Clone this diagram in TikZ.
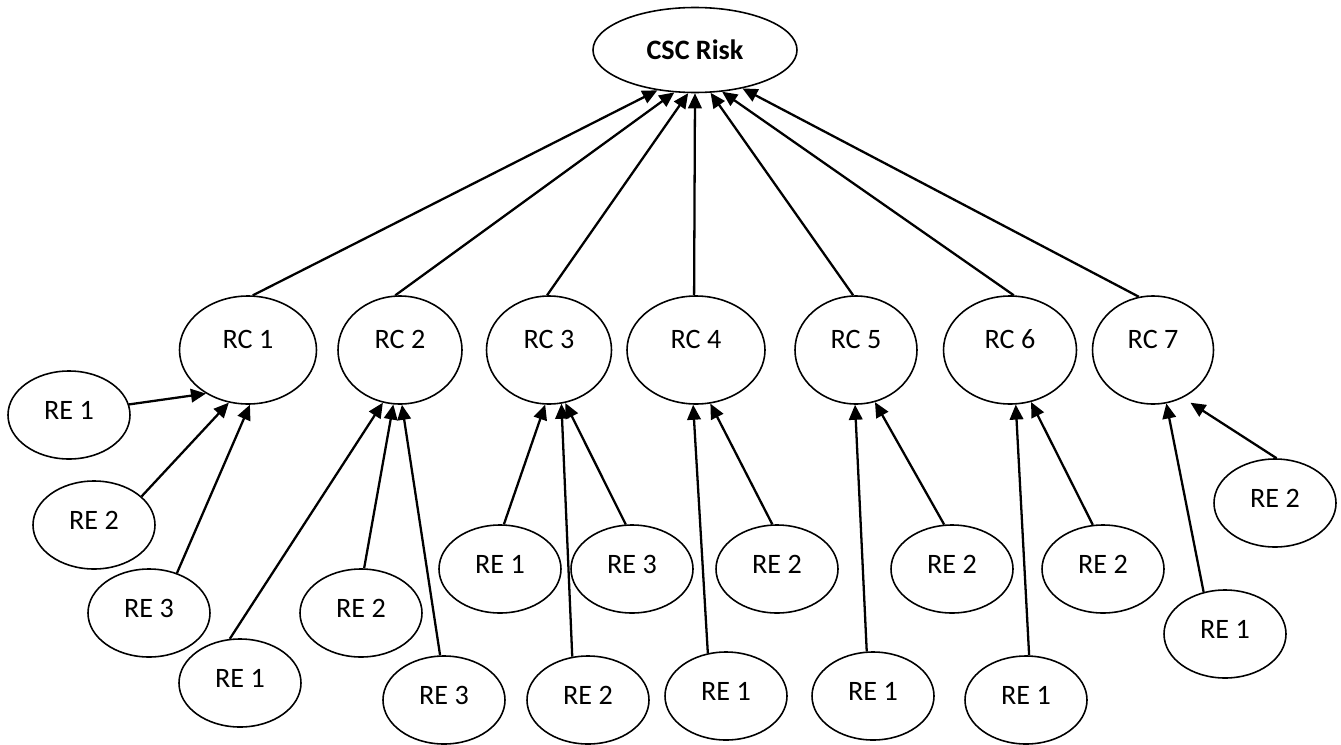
\documentclass[tikz,border=0pt]{standalone}
\usepackage{fontspec}
\setmainfont{Carlito}
\usetikzlibrary{arrows.meta,shapes.geometric}

\tikzset{
  every node/.style={font=\fontsize{16}{19}\selectfont, inner sep=1pt},
  riskbox/.style={ellipse, draw, line width=0.9pt, minimum width=4.08cm, minimum height=1.7cm, font=\fontsize{16}{19}\selectfont\bfseries},
  causebox/.style={ellipse, draw, line width=0.9pt, minimum width=2.5cm, minimum height=2.16cm, text height=0.4cm, text depth=0.46cm},
  eventbox/.style={ellipse, draw, line width=0.9pt, minimum width=2.44cm, minimum height=1.76cm, text height=0.4cm, text depth=0.22cm},
  link/.style={line width=1.3pt, -{Triangle[length=0.3cm,width=0.27cm]}},
}

\begin{document}
\begin{tikzpicture}[x=1cm,y=1cm]
\useasboundingbox (0,0) rectangle (26.82,14.88);
% top node
\node[riskbox] (csc) at (13.9,13.88) {CSC Risk};
% risk categories
\node[causebox, minimum width=2.74cm] (rc1) at (4.96,7.88) {RC 1};
\node[causebox, minimum width=2.48cm] (rc2) at (8.00,7.88) {RC 2};
\node[causebox, minimum width=2.50cm] (rc3) at (10.98,7.88) {RC 3};
\node[causebox, minimum width=2.76cm] (rc4) at (13.92,7.88) {RC 4};
\node[causebox, minimum width=2.44cm] (rc5) at (17.12,7.88) {RC 5};
\node[causebox, minimum width=2.66cm] (rc6) at (20.20,7.88) {RC 6};
\node[causebox, minimum width=2.42cm] (rc7) at (23.06,7.88) {RC 7};
% risk events
\node[eventbox] (c1e1) at (1.38,6.58) {RE 1};
\node[eventbox] (c1e2) at (1.88,4.38) {RE 2};
\node[eventbox] (c1e3) at (2.98,2.62) {RE 3};
\node[eventbox] (c2e1) at (4.80,1.22) {RE 1};
\node[eventbox] (c2e2) at (7.22,2.62) {RE 2};
\node[eventbox] (c2e3) at (8.88,0.88) {RE 3};
\node[eventbox] (c3e1) at (10.00,3.50) {RE 1};
\node[eventbox] (c3e2) at (11.76,0.88) {RE 2};
\node[eventbox] (c3e3) at (12.64,3.50) {RE 3};
\node[eventbox] (c4e1) at (14.52,0.96) {RE 1};
\node[eventbox] (c4e2) at (15.54,3.50) {RE 2};
\node[eventbox] (c5e1) at (17.46,0.96) {RE 1};
\node[eventbox] (c5e2) at (19.04,3.50) {RE 2};
\node[eventbox] (c6e1) at (20.52,0.88) {RE 1};
\node[eventbox] (c6e2) at (22.06,3.50) {RE 2};
\node[eventbox] (c7e1) at (24.50,2.20) {RE 1};
\node[eventbox] (c7e2) at (25.50,4.82) {RE 2};
% categories to risk
\draw[link] (rc1.85) -- (csc.227);
\draw[link] (rc2.95) -- (csc.244);
\draw[link] (rc3.92) -- (csc.261);
\draw[link] (rc4.92) -- (csc.270);
\draw[link] (rc5.93) -- (csc.290);
\draw[link] (rc6.86) -- (csc.303);
\draw[link] (rc7.105) -- (csc.321);
% events to categories
\draw[link] (c1e1.10) -- (rc1.226);
\draw[link] (c1e2.31) -- (rc1.250);
\draw[link] (c1e3.55) -- (rc1.272);
\draw[link] (c2e1.103) -- (rc2.252);
\draw[link] (c2e2.86) -- (rc2.263);
\draw[link] (c2e3.95) -- (rc2.272);
\draw[link] (c3e1.85) -- (rc3.266);
\draw[link] (c3e2.110) -- (rc3.283);
\draw[link] (c3e3.98) -- (rc3.287);
\draw[link] (c4e1.113) -- (rc4.267);
\draw[link] (c4e2.96) -- (rc4.285);
\draw[link] (c5e1.98) -- (rc5.269);
\draw[link] (c5e2.100) -- (rc5.290);
\draw[link] (c6e1.86) -- (rc6.276);
\draw[link] (c6e2.103) -- (rc6.292);
\draw[link] (c7e1.117) -- (rc7.284);
\draw[link, shorten >=0.18cm] (c7e2.88) -- (rc7.302);
\end{tikzpicture}
\end{document}
